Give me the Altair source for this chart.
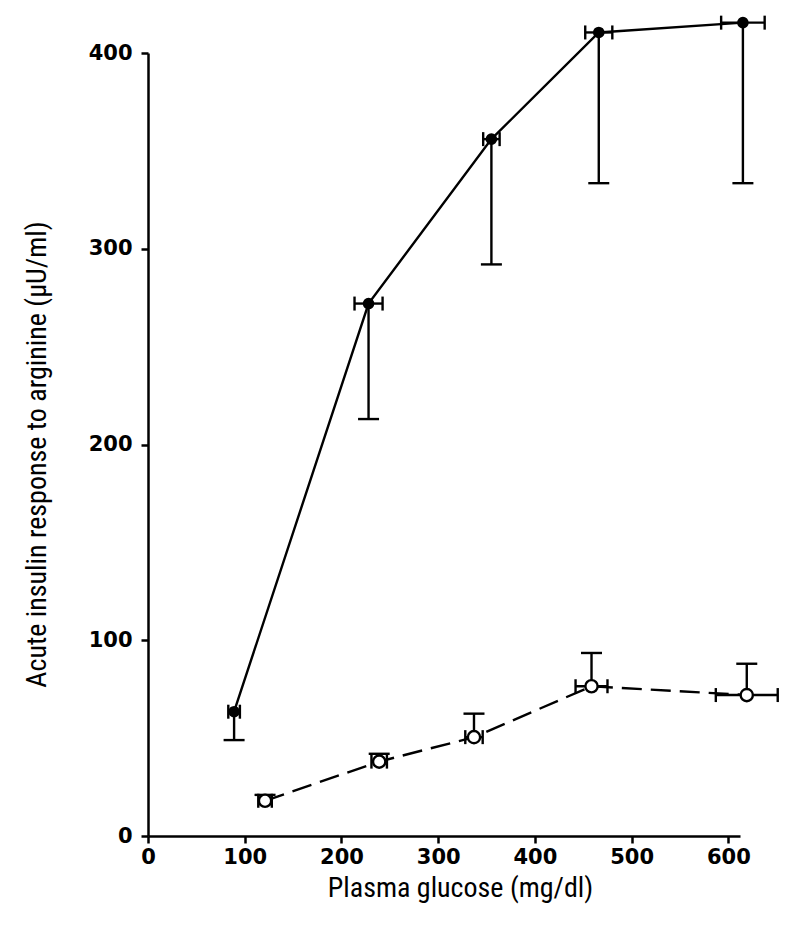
import altair as alt
import pandas as pd

# Filled circles (solid line)
solid_x = [89, 228, 355, 466, 615]
solid_y = [63.5, 272, 356, 410.5, 415.5]
solid_y_low = [49, 213, 292, 333.5, 333.5]
solid_x_err = [6, 14.5, 8.5, 14, 22.5]

# Open circles (dashed line)
open_x = [121, 239, 337, 458.5, 619]
open_y = [18, 38, 50.5, 76.5, 72]
open_y_high = [21, 42, 62.5, 93.5, 88]
open_x_err = [7, 8, 9, 16.5, 32]

x_ticks = [0, 100, 200, 300, 400, 500, 600]
y_ticks = [0, 100, 200, 300, 400]

sdf = pd.DataFrame({
    "x": solid_x, "y": solid_y, "ylo": solid_y_low,
    "xlo": [a - b for a, b in zip(solid_x, solid_x_err)],
    "xhi": [a + b for a, b in zip(solid_x, solid_x_err)],
})
odf = pd.DataFrame({
    "x": open_x, "y": open_y, "yhi": open_y_high,
    "xlo": [a - b for a, b in zip(open_x, open_x_err)],
    "xhi": [a + b for a, b in zip(open_x, open_x_err)],
})

xs = alt.Scale(domain=[0, 612], nice=False, zero=False)
ys = alt.Scale(domain=[0, 400], nice=False)

TITLE_FONT = "Liberation Sans Narrow, Roboto Condensed, DejaVu Sans Condensed, Liberation Sans, sans-serif"
LW = 2.4

xaxis = alt.Axis(values=x_ticks, grid=False, title="Plasma glucose (mg/dl)",
                 labelFlush=False, labelOverlap=False, labelPadding=3,
                 titleX=312, titleY=52, titleAlign="center", titleBaseline="middle")
yaxis = alt.Axis(values=y_ticks, grid=False, title="Acute insulin response to arginine (µU/ml)",
                 labelPadding=9, labelOverlap=False,
                 titleX=-111, titleY=401, titleAngle=270, titleAlign="center", titleBaseline="middle")

bs = alt.Chart(sdf)
bo = alt.Chart(odf)

X = alt.X("x:Q", scale=xs, axis=xaxis)
Y = alt.Y("y:Q", scale=ys, axis=yaxis)

line_s = bs.mark_line(color="black", strokeWidth=LW).encode(x=X, y=Y)
line_o = bo.mark_line(color="black", strokeWidth=LW, strokeDash=[20, 9]).encode(x=X, y=Y)

err_s = bs.mark_rule(color="black", strokeWidth=LW).encode(x="x:Q", y="y:Q", y2="ylo:Q")
cap_s = bs.mark_tick(orient="horizontal", size=21, thickness=LW, color="black", opacity=1).encode(x="x:Q", y="ylo:Q")
xerr_s = bs.mark_rule(color="black", strokeWidth=LW).encode(x="xlo:Q", x2="xhi:Q", y="y:Q")
xcl_s = bs.mark_tick(orient="vertical", size=14, thickness=LW, color="black", opacity=1).encode(x="xlo:Q", y="y:Q")
xch_s = bs.mark_tick(orient="vertical", size=14, thickness=LW, color="black", opacity=1).encode(x="xhi:Q", y="y:Q")
pts_s = bs.mark_point(shape="circle", filled=True, size=135, color="black", opacity=1).encode(x="x:Q", y="y:Q")

err_o = bo.mark_rule(color="black", strokeWidth=LW).encode(x="x:Q", y="y:Q", y2="yhi:Q")
cap_o = bo.mark_tick(orient="horizontal", size=21, thickness=LW, color="black", opacity=1).encode(x="x:Q", y="yhi:Q")
xerr_o = bo.mark_rule(color="black", strokeWidth=LW).encode(x="xlo:Q", x2="xhi:Q", y="y:Q")
xcl_o = bo.mark_tick(orient="vertical", size=14, thickness=LW, color="black", opacity=1).encode(x="xlo:Q", y="y:Q")
xch_o = bo.mark_tick(orient="vertical", size=14, thickness=LW, color="black", opacity=1).encode(x="xhi:Q", y="y:Q")
pts_o = bo.mark_point(shape="circle", filled=True, size=150, fill="white", stroke="black",
                      strokeWidth=LW, opacity=1, fillOpacity=1).encode(x="x:Q", y="y:Q")

chart = alt.layer(
    line_s, line_o,
    err_s, cap_s, xerr_s, xcl_s, xch_s,
    err_o, cap_o, xerr_o, xcl_o, xch_o,
    pts_s, pts_o,
).properties(
    width=592, height=783,
    autosize=alt.AutoSizeParams(type="none"),
    padding={"left": 140, "top": 45, "right": 50, "bottom": 80},
    background="white",
).configure_view(stroke=None).configure_axis(
    domainColor="black", domainWidth=2.5,
    tickColor="black", tickWidth=2.5, tickSize=7,
    labelFont="DejaVu Sans", labelFontWeight="bold", labelFontSize=21, labelColor="black",
    titleFont=TITLE_FONT, titleFontSize=28, titleFontWeight="normal", titleColor="black",
)

chart.save("out.html", embed_options={"renderer": "svg", "actions": False})
